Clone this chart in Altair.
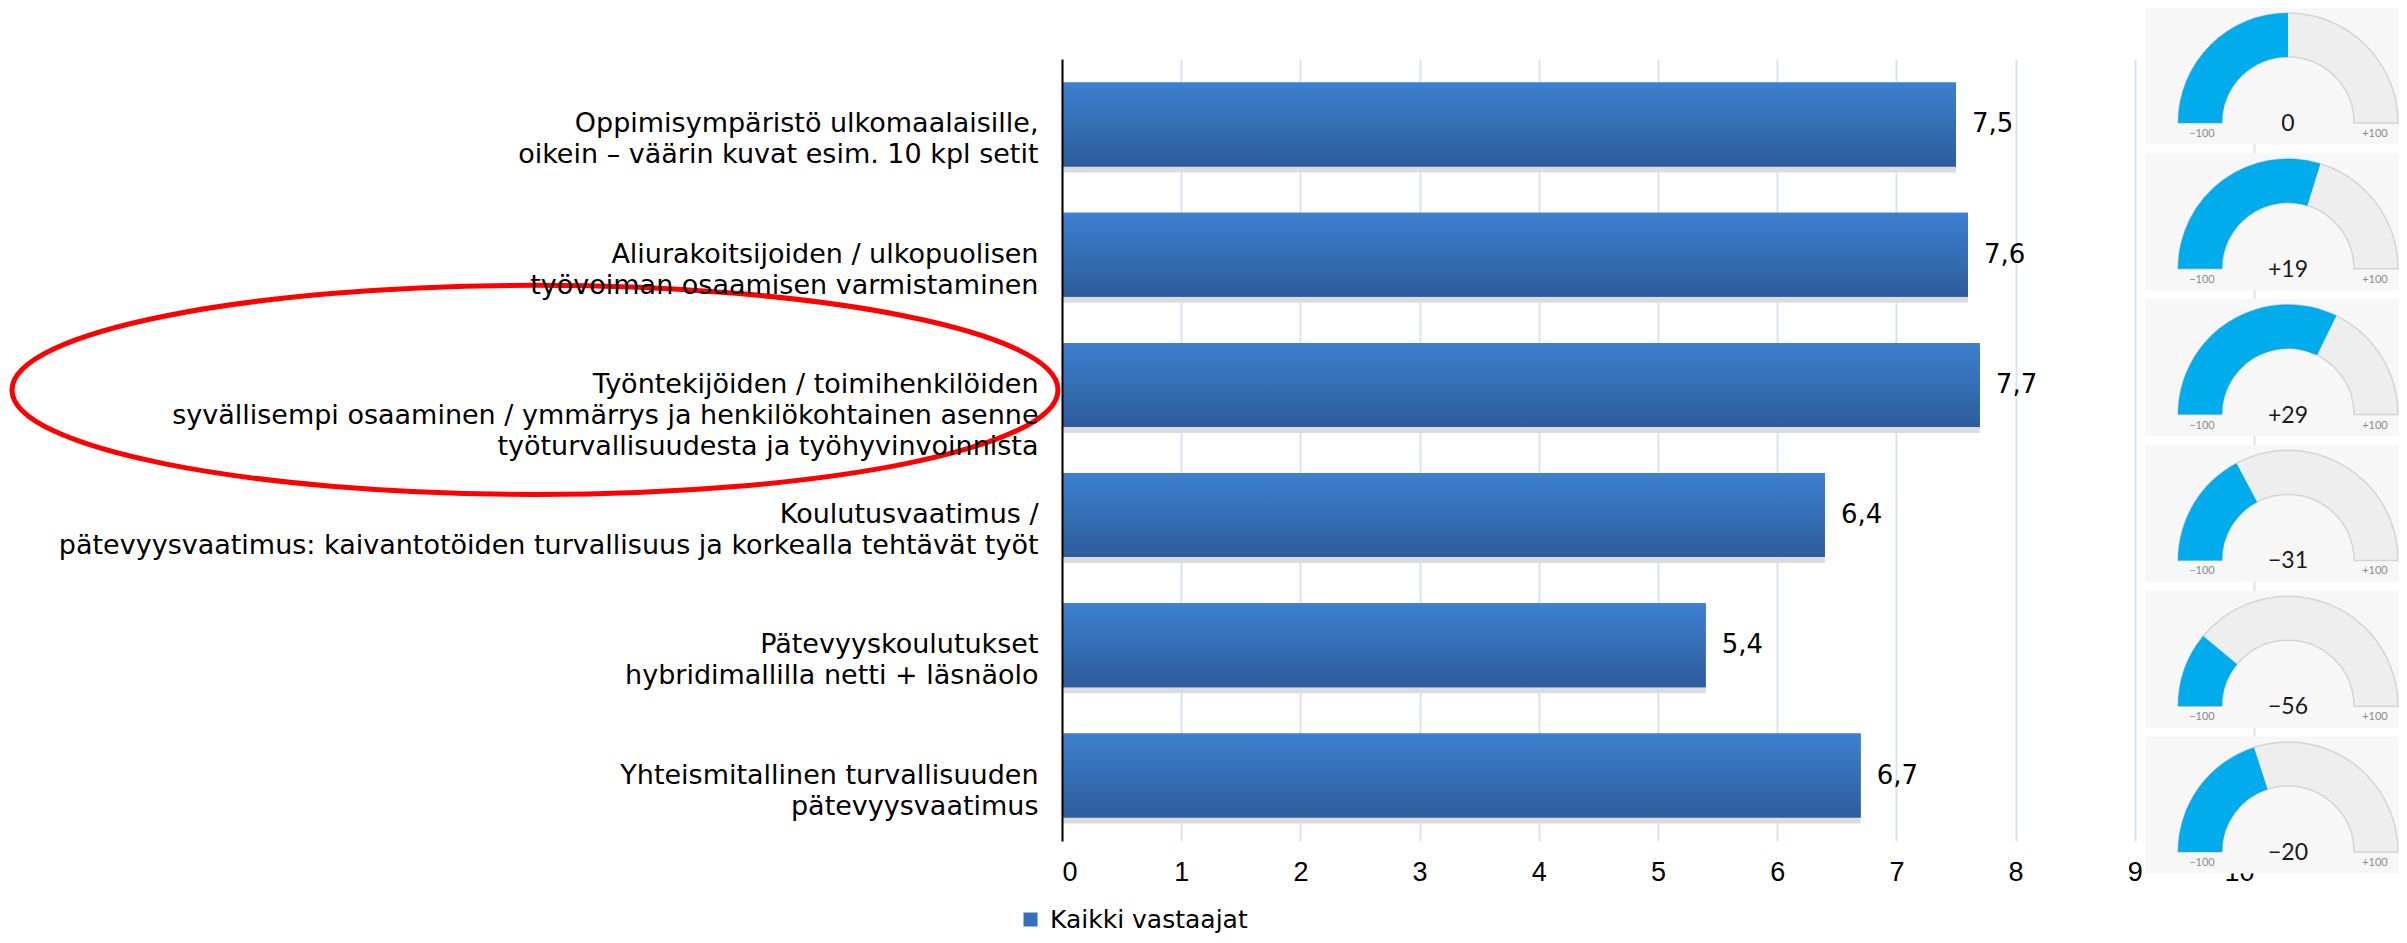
import math
import altair as alt
import pandas as pd

# ---------------- data ----------------
categories = [
    "Oppimisympäristö ulkomaalaisille,\noikein – väärin kuvat esim. 10 kpl setit",
    "Aliurakoitsijoiden / ulkopuolisen\ntyövoiman osaamisen varmistaminen",
    "Työntekijöiden / toimihenkilöiden\nsyvällisempi osaaminen / ymmärrys ja henkilökohtainen asenne\ntyöturvallisuudesta ja työhyvinvoinnista",
    "Koulutusvaatimus /\npätevyysvaatimus: kaivantotöiden turvallisuus ja korkealla tehtävät työt",
    "Pätevyyskoulutukset\nhybridimallilla netti + läsnäolo",
    "Yhteismitallinen turvallisuuden\npätevyysvaatimus",
]
scores = [7.5, 7.6, 7.7, 6.4, 5.4, 6.7]
highlight = [0, 0, 1, 0, 0, 0]
series_name = "Kaikki vastaajat"
x_ticks = [0, 1, 2, 3, 4, 5, 6, 7, 8, 9, 10]

gauge_values = [0, 19, 29, -31, -56, -20]
gauge_labels = ["0", "+19", "+29", "\u221231", "\u221256", "\u221220"]
gauge_min_label = "\u2212100"
gauge_max_label = "+100"

bars_df = pd.DataFrame({
    "category": categories,
    "score": scores,
    "highlight": highlight,
    "series": [series_name] * len(categories),
})
gauge_df = pd.DataFrame({
    "g": list(range(len(gauge_values))),
    "value": gauge_values,
    "label": gauge_labels,
})

FONT = "DejaVu Sans"
TICK_FONT = "Liberation Sans"

# ---------------- bar chart ----------------
y_enc = alt.Y(
    "category:N",
    sort=categories,
    scale=alt.Scale(paddingInner=0.355, paddingOuter=0.18),
    axis=alt.Axis(
        title=None,
        labelExpr="split(datum.label, '\\n')",
        labelFontSize=27,
        labelFont=FONT,
        labelColor="#000000",
        labelPadding=24,
        labelLimit=1100,
        labelLineHeight=31,
        ticks=False,
        domainColor="#000000",
        domainWidth=2,
        zindex=1,
    ),
)
x_enc = alt.X(
    "score:Q",
    scale=alt.Scale(domain=[0, 10], nice=False),
    axis=alt.Axis(
        title=None,
        values=x_ticks,
        grid=True,
        gridColor="#dae3ef",
        gridWidth=2,
        domain=False,
        ticks=False,
        labelFontSize=27,
        labelFont=TICK_FONT,
        labelColor="#000000",
        labelPadding=18,
    ),
)

base = alt.Chart(bars_df)

shadow = base.mark_bar(color="#dcdcdc", yOffset=6).encode(x=x_enc, y=y_enc)

solid = base.mark_bar().encode(
    x=x_enc,
    y=y_enc,
    color=alt.Color(
        "series:N",
        scale=alt.Scale(range=["#3570bd"]),
        legend=alt.Legend(
            title=None,
            orient="none",
            legendX=-44,
            legendY=848,
            symbolType="square",
            symbolSize=196,
            labelFontSize=25,
            labelFont=FONT,
            labelColor="#000000",
            labelOffset=7,
            labelLimit=500,
            padding=0,
        ),
    ),
)

grad = base.mark_bar(
    color=alt.Gradient(
        gradient="linear",
        stops=[
            alt.GradientStop(color="#3d80cf", offset=0),
            alt.GradientStop(color="#2d5c9b", offset=1),
        ],
        x1=0, x2=0, y1=0, y2=1,
    )
).encode(x=x_enc, y=y_enc)

vals = base.transform_calculate(
    lbl="replace(format(datum.score, '.1f'), '.', ',')"
).mark_text(
    align="left", dx=16, fontSize=26, font=FONT, color="#000000"
).encode(x=x_enc, y=y_enc, text="lbl:N")

ELLIPSE = "M -1 0 A 1 0.2 0 1 1 1 0 A 1 0.2 0 1 1 -1 0 Z"
ellipse = base.transform_filter("datum.highlight == 1").mark_point(
    shape=ELLIPSE, size=1094116, filled=False, stroke="#ff0000",
    strokeWidth=5, opacity=1, yOffset=5,
).encode(x=alt.value(-527), y=y_enc)

bars_layer = alt.layer(shadow, solid, grad, vals, ellipse)

# ---------------- gauges ----------------
gy = alt.Y("g:O", scale=alt.Scale(type="point", range=[64, 793], padding=0), axis=None)
th_scale = alt.Scale(domain=[-100, 100], range=[1.5 * math.pi, 2.5 * math.pi])
GX = 1226

gb = alt.Chart(gauge_df)

box = gb.mark_point(
    shape="M -1 -0.515 L 1 -0.515 L 1 0.515 L -1 0.515 Z",
    size=70756, filled=True, fill="#f7f7f7", strokeWidth=0, opacity=1, yOffset=-47,
).encode(x=alt.value(GX - 10), y=gy)

gray = gb.transform_calculate(lo="-100", hi="100").mark_arc(
    radius=110, radius2=66, fill="#eeeeee", stroke="#d4d4d4", strokeWidth=1.5
).encode(
    x=alt.value(GX), y=gy,
    theta=alt.Theta("lo:Q", scale=th_scale, stack=None),
    theta2="hi:Q",
)

blue = gb.transform_calculate(lo="-100").mark_arc(
    radius=110, radius2=66, fill="#00acec"
).encode(
    x=alt.value(GX), y=gy,
    theta=alt.Theta("lo:Q", scale=th_scale, stack=None),
    theta2="value:Q",
)

val_text = gb.mark_text(
    fontSize=23, font="Lato", color="#1a1a1a", baseline="alphabetic", dy=8
).encode(x=alt.value(GX), y=gy, text="label:N")

min_text = gb.mark_text(
    fontSize=11, font="Lato", color="#8a8a8a", baseline="alphabetic", dx=-86, dy=14
).encode(x=alt.value(GX), y=gy, text=alt.value(gauge_min_label))

max_text = gb.mark_text(
    fontSize=11, font="Lato", color="#8a8a8a", baseline="alphabetic", dx=87, dy=14
).encode(x=alt.value(GX), y=gy, text=alt.value(gauge_max_label))

gauge_layer = alt.layer(box, gray, blue, val_text, min_text, max_text)

chart = alt.layer(bars_layer, gauge_layer).resolve_scale(y="independent").properties(
    width=1192,
    height=782,
    padding={"left": 1054, "top": 51, "right": 145, "bottom": 94},
    autosize=alt.AutoSizeParams(type="none"),
    background="#ffffff",
).configure_view(stroke=None)

chart.save("out.html", embed_options={"renderer": "svg", "actions": False})
